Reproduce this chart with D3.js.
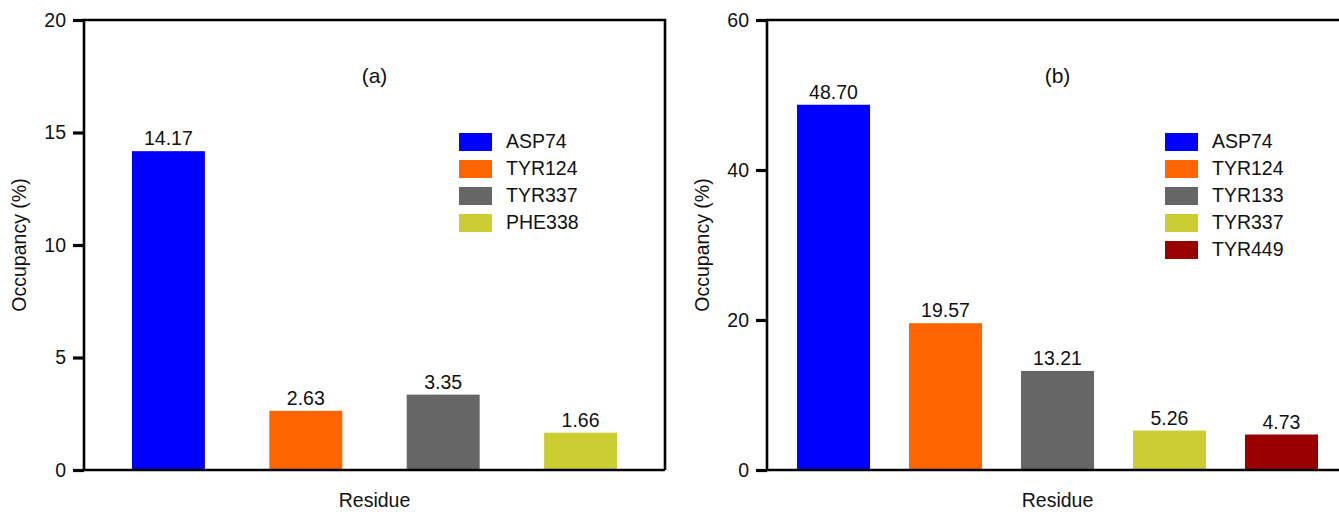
<!DOCTYPE html>
<html><head><meta charset="utf-8">
<script src="https://cdn.jsdelivr.net/npm/d3@7"></script>
<style>body{margin:0;background:#fff}svg{display:block;font-family:"Liberation Sans",Arial,Helvetica,sans-serif}</style>
</head><body>
<svg id="c" width="1339" height="512"></svg>
<script>
const residuesA = ["ASP74","TYR124","TYR337","PHE338"];
const valuesA = [14.17, 2.63, 3.35, 1.66];
const colorsA = ["#0000ff","#ff6600","#666666","#cccc33"];
const ticksA = [0,5,10,15,20];

const residuesB = ["ASP74","TYR124","TYR133","TYR337","TYR449"];
const valuesB = [48.70, 19.57, 13.21, 5.26, 4.73];
const colorsB = ["#0000ff","#ff6600","#666666","#cccc33","#990000"];
const ticksB = [0,20,40,60];

const svg = d3.select("#c");

function panel(opts){
  const {x0, x1, y0, y1, cats, vals, cols, ticks, ymax, label, pIn, pOut, legX, ttlX} = opts;
  const g = svg.append("g");
  const x = d3.scaleBand().domain(cats).range([x0, x1]).paddingInner(pIn).paddingOuter(pOut);
  const y = d3.scaleLinear().domain([0, ymax]).range([y1, y0]);
  // bars
  g.selectAll("rect.bar").data(cats).join("rect").attr("class","bar")
    .attr("x", d => x(d)).attr("width", x.bandwidth())
    .attr("y", (d,i) => y(vals[i])).attr("height", (d,i) => y(0) - y(vals[i]))
    .attr("fill", (d,i) => cols[i]);
  g.selectAll("text.val").data(cats).join("text").attr("class","val")
    .attr("x", d => x(d) + x.bandwidth()/2)
    .attr("y", (d,i) => y(vals[i]) - 6)
    .attr("text-anchor","middle").attr("font-size", 19.5).attr("fill","#111")
    .text((d,i) => vals[i].toFixed(2));
  // frame
  g.append("path")
    .attr("d", `M${x1},${y1}H${x0}V${y0}H${x1}V${y1}`)
    .attr("fill","none").attr("stroke","#000").attr("stroke-width",2.6);
  // y axis
  const ax = g.append("g").attr("transform", `translate(${x0},0)`)
    .call(d3.axisLeft(y).tickValues(ticks).tickSize(11).tickPadding(7).tickFormat(d3.format("d")));
  ax.select(".domain").remove();
  ax.selectAll(".tick line").attr("stroke","#000").attr("stroke-width",3.2);
  ax.selectAll(".tick text").attr("font-size",19.5).attr("fill","#111").attr("font-family","Liberation Sans, Arial, sans-serif");
  // titles
  g.append("text").attr("x", (x0+x1)/2).attr("y", 83).attr("text-anchor","middle")
    .attr("font-size",21).attr("fill","#111").text(label);
  g.append("text").attr("x", (x0+x1)/2).attr("y", 507).attr("text-anchor","middle")
    .attr("font-size",19.5).attr("fill","#111").text("Residue");
  g.append("text").attr("transform", `translate(${ttlX},${(y0+y1)/2}) rotate(-90)`)
    .attr("text-anchor","middle").attr("font-size",19.5).attr("fill","#111").text("Occupancy (%)");
  // legend
  const lg = g.append("g").attr("transform", `translate(${legX},133)`);
  const rows = lg.selectAll("g").data(cats).join("g").attr("transform",(d,i)=>`translate(0,${i*27})`);
  rows.append("rect").attr("width",33).attr("height",18).attr("fill",(d,i)=>cols[i]);
  rows.append("text").attr("x",47).attr("y",15).attr("font-size",19.5).attr("fill","#111").text(d=>d);
}

panel({x0:84, x1:665, y0:20, y1:470, cats:residuesA, vals:valuesA, cols:colorsA, ticks:ticksA, ymax:20,
  label:"(a)", pIn:0.469, pOut:0.349, legX:459, ttlX:26});
panel({x0:767, x1:1348, y0:20, y1:470, cats:residuesB, vals:valuesB, cols:colorsB, ticks:ticksB, ymax:60,
  label:"(b)", pIn:0.348, pOut:0.268, legX:1165, ttlX:709});
</script>
</body></html>
